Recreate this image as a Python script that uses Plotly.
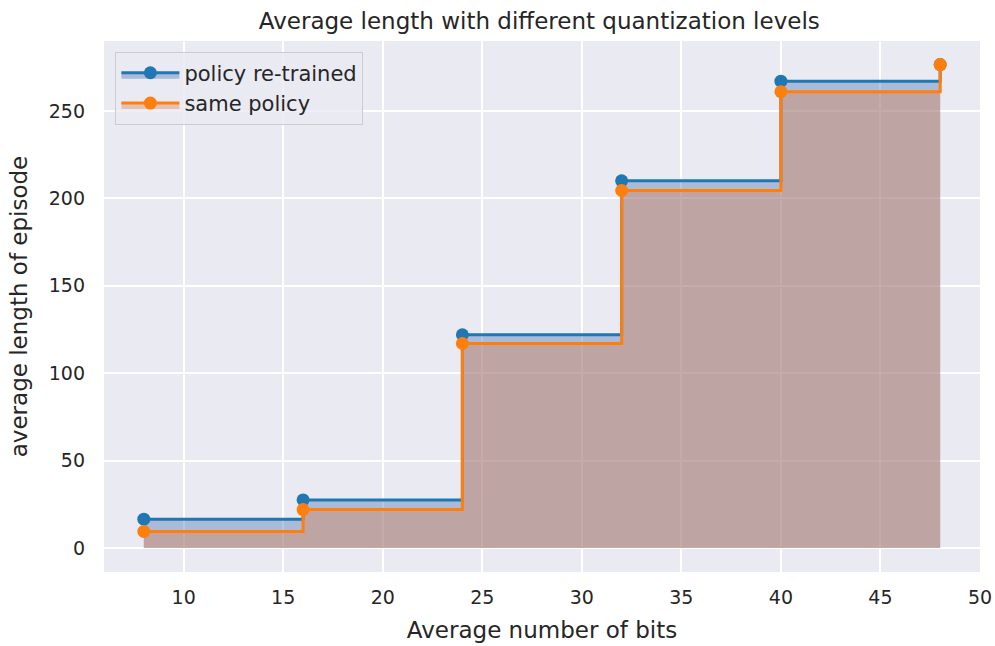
import plotly.graph_objects as go

# Quantization levels (average bits) and mean episode lengths
bits = [8, 16, 24, 32, 40, 48]
retrained = [16.5, 27.5, 122, 210, 267, 276.5]
same_policy = [9.5, 22, 117, 204.5, 261, 276.5]

BG = "#EAEAF2"
TXT = "#262626"
FONT = "DejaVu Sans"

fig = go.Figure()

fig.add_trace(go.Scatter(
    x=bits, y=retrained, name="policy re-trained",
    mode="lines+markers", line=dict(color="#1f77b4", width=3, shape="hv"),
    marker=dict(size=13, color="#1f77b4"),
    fill="tozeroy", fillcolor="rgba(76,114,176,0.4)",
))
fig.add_trace(go.Scatter(
    x=bits, y=same_policy, name="same policy",
    mode="lines+markers", line=dict(color="#ff7f0e", width=3, shape="hv"),
    marker=dict(size=13, color="#ff7f0e"),
    fill="tozeroy", fillcolor="rgba(221,132,82,0.4)",
))

axis_common = dict(
    showgrid=True, gridcolor="white", gridwidth=1.6,
    zeroline=False, showline=False, ticks="", automargin=False,
    tickfont=dict(family=FONT, size=19, color=TXT),
)

fig.update_xaxes(
    range=[6, 50], tickvals=[10, 15, 20, 25, 30, 35, 40, 45, 50],
    ticklabelstandoff=12,
    title=dict(text="Average number of bits", font=dict(family=FONT, size=23, color=TXT), standoff=14),
    **axis_common,
)
fig.update_yaxes(
    range=[-13.7, 290], tickvals=[0, 50, 100, 150, 200, 250],
    ticklabelstandoff=18,
    title=dict(text="average length of episode", font=dict(family=FONT, size=23, color=TXT), standoff=14),
    **axis_common,
)

fig.update_layout(
    width=995, height=646,
    margin=dict(l=104, r=15, t=41, b=74),
    paper_bgcolor="white", plot_bgcolor=BG,
    title=dict(text="Average length with different quantization levels",
               font=dict(family=FONT, size=23, color=TXT),
               x=0.542, xanchor="center", y=0.968, yanchor="middle"),
    legend=dict(
        x=0.013, y=0.98, xanchor="left", yanchor="top",
        bgcolor="rgba(234,234,242,0.8)", bordercolor="#cccccc", borderwidth=1,
        font=dict(family=FONT, size=21, color=TXT),
        itemwidth=58,
    ),
    showlegend=True,
)

fig.write_html("out.html")
